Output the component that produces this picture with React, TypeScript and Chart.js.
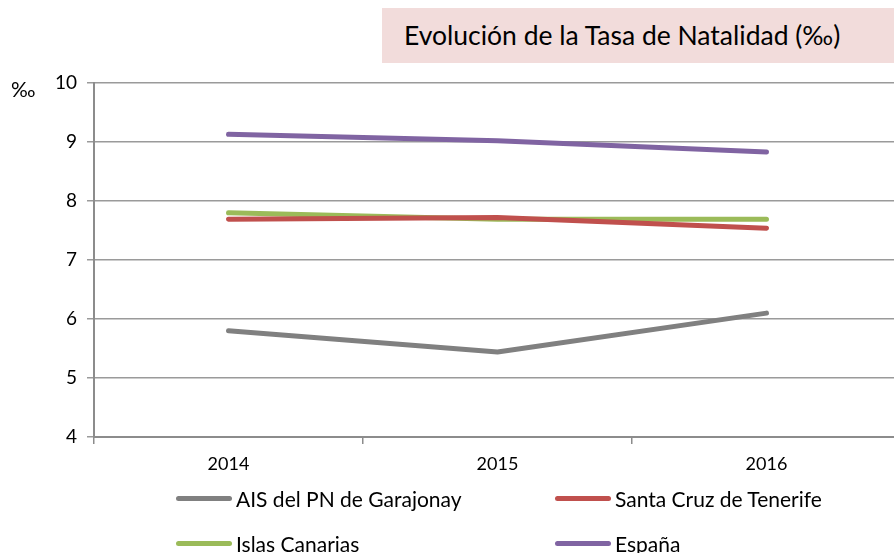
import React, { useEffect, useRef } from "react";
import { Chart, registerables } from "chart.js";

Chart.register(...registerables);

const categories = ["2014", "2015", "2016"];
const seriesNames = ["AIS del PN de Garajonay", "Santa Cruz de Tenerife", "Islas Canarias", "España"];
const garajonay = [5.8, 5.44, 6.1];
const santaCruz = [7.69, 7.72, 7.54];
const canarias = [7.8, 7.69, 7.69];
const espana = [9.13, 9.02, 8.83];
const seriesColors = ["#808080", "#C0504D", "#9BBB59", "#8064A2"];
const yTicks = [4, 5, 6, 7, 8, 9, 10];

const FONT = "Lato, 'Noto Sans', sans-serif";

const legendPos = [
  { left: 176, top: 498 },
  { left: 555, top: 498 },
  { left: 176, top: 543 },
  { left: 555, top: 543 },
];

export default function App() {
  const ref = useRef<HTMLCanvasElement | null>(null);
  useEffect(() => {
    document.body.style.margin = "0";
    document.body.style.overflow = "hidden";
    const values = [garajonay, santaCruz, canarias, espana];
    const chart = new Chart(ref.current!, {
      type: "line",
      data: {
        labels: categories,
        datasets: seriesNames.map((n, i) => ({
          label: n,
          data: values[i],
          borderColor: seriesColors[i],
          backgroundColor: seriesColors[i],
          borderWidth: 5,
          pointRadius: 0,
          borderCapStyle: "round" as const,
          borderJoinStyle: "round" as const,
          tension: 0,
        })),
      },
      options: {
        animation: false,
        responsive: false,
        layout: { padding: { left: 0, right: 1, top: 83, bottom: 0 } },
        plugins: { legend: { display: false }, title: { display: false }, tooltip: { enabled: false } },
        scales: {
          x: {
            type: "category",
            offset: true,
            grid: { offset: true, drawOnChartArea: false, drawTicks: true, tickLength: 7, color: "#8c8c8c", lineWidth: 1.5 },
            border: { color: "#8c8c8c", width: 2 },
            ticks: { color: "#000", font: { family: FONT, size: 18 }, padding: 9 },
            afterFit: (s: any) => { s.height = 116; },
          },
          y: {
            min: 4,
            max: 10,
            afterBuildTicks: (s: any) => { s.ticks = yTicks.map((v) => ({ value: v })); },
            grid: { color: "#9a9a9a", lineWidth: 1.5, tickLength: 7 },
            border: { color: "#8c8c8c", width: 2 },
            ticks: { color: "#000", font: { family: FONT, size: 19 }, padding: 10 },
            afterFit: (s: any) => { s.width = 94; },
          },
        },
      },
    });
    return () => chart.destroy();
  }, []);

  return (
    <div style={{ position: "relative", width: 894, height: 553, overflow: "hidden", background: "#fff" }}>
      <canvas ref={ref} width={902} height={553} style={{ position: "absolute", left: 0, top: 0 }} />
      <div
        style={{
          position: "absolute", left: 382, top: 8, width: 520, height: 55, background: "#F2DCDB",
          fontFamily: FONT, fontSize: 26.5, color: "#000", lineHeight: "55px", paddingLeft: 22, boxSizing: "border-box",
        }}
      >
        Evolución de la Tasa de Natalidad (‰)
      </div>
      <div style={{ position: "absolute", left: 11, top: 76, fontFamily: FONT, fontSize: 21, color: "#000" }}>‰</div>
      {seriesNames.map((n, i) => (
        <div key={n} style={{ position: "absolute", left: legendPos[i].left, top: legendPos[i].top - 14, height: 28, display: "flex", alignItems: "center" }}>
          <div style={{ width: 56, height: 5, borderRadius: 3, background: seriesColors[i] }} />
          <span style={{ fontFamily: FONT, fontSize: 21, color: "#000", marginLeft: 4, whiteSpace: "nowrap" }}>{n}</span>
        </div>
      ))}
    </div>
  );
}
